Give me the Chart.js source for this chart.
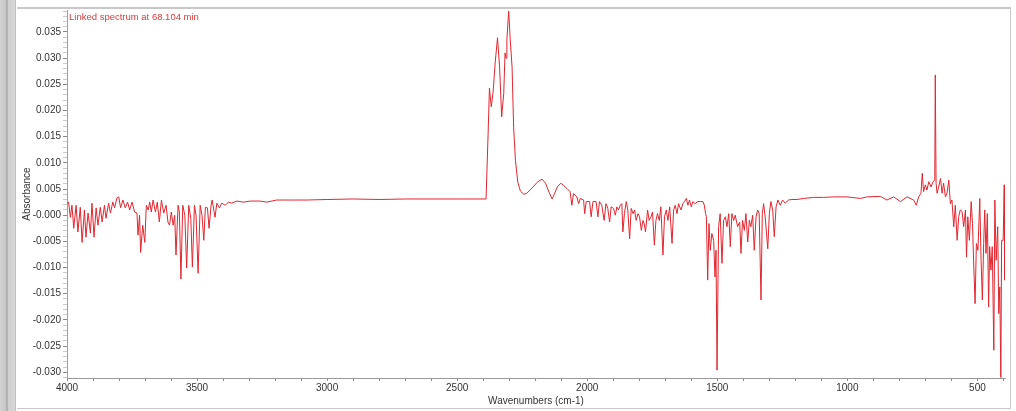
<!DOCTYPE html>
<html>
<head>
<meta charset="utf-8">
<script src="https://cdn.jsdelivr.net/npm/chart.js@4"></script>
<style>
  body { margin: 0; background: #ffffff; width: 1016px; height: 411px; overflow: hidden; position: relative; font-family: "Liberation Sans", Arial, sans-serif; }
  .sidebar { position: absolute; left: 0; top: 0; width: 16px; height: 411px; background: linear-gradient(to right, #d4d4d4 0px, #c6c6c6 6px, #9a9a9a 7px, #cfcfcf 8px, #d8d8d8 15px, #a8a8a8 16px); }
  .panel { position: absolute; left: 17px; top: 7px; width: 994px; height: 402px; border-top: 2px solid #c8c8c8; border-right: 1px solid #c8c8c8; border-bottom: 1px solid #c8c8c8; box-sizing: border-box; }
  #chart { position: absolute; left: 0; top: 0; }
  .caption { position: absolute; left: 69px; top: 11px; font-size: 9.5px; color: #e03a3a; white-space: nowrap; }
</style>
</head>
<body>
<div class="sidebar"></div>
<div class="panel"></div>
<canvas id="chart" width="1016" height="411"></canvas>
<div class="caption">Linked spectrum at 68.104 min</div>
<script>
const wavenumbers = [
    4000, 3994, 3987, 3981, 3974, 3965, 3958, 3949, 3942, 3933, 3927, 3919, 3910, 3904, 3896, 3888,
    3881, 3872, 3865, 3856, 3850, 3840, 3833, 3824, 3817, 3808, 3801, 3794, 3785, 3776, 3767, 3759,
    3750, 3740, 3731, 3727, 3721, 3717, 3709, 3701, 3695, 3688, 3682, 3676, 3669, 3660, 3653, 3645,
    3637, 3628, 3619, 3612, 3606, 3599, 3592, 3586, 3581, 3573, 3568, 3562, 3555, 3547, 3540, 3532,
    3524, 3518, 3510, 3504, 3496, 3488, 3481, 3474, 3468, 3460, 3454, 3446, 3442, 3431, 3424, 3414,
    3405, 3392, 3379, 3367, 3347, 3322, 3296, 3258, 3232, 3194, 3130, 3078, 3000, 2900, 2800, 2700,
    2600, 2500, 2420, 2389,
    2381, 2376, 2369, 2362, 2354, 2345, 2337, 2329, 2321, 2316, 2312, 2309, 2302, 2296, 2289, 2283,
    2276, 2267, 2257, 2244, 2232, 2212, 2192, 2174, 2160, 2147, 2135, 2125, 2115, 2102,
    2091, 2078, 2066, 2059, 2053, 2040, 2033, 2027, 2014, 2010, 2004, 1991, 1985, 1978, 1966, 1959,
    1953, 1944, 1935, 1928, 1921, 1914, 1908, 1899, 1892, 1886, 1880, 1873, 1867, 1863, 1857, 1850,
    1844, 1837, 1831, 1824, 1818, 1812, 1805, 1799, 1792, 1786, 1781, 1776, 1768, 1762, 1755, 1749,
    1742, 1736, 1730, 1723, 1717, 1709, 1703, 1696, 1690, 1683, 1674, 1668, 1662, 1655, 1649, 1640,
    1632, 1626, 1619, 1613, 1607, 1600, 1594, 1585, 1576, 1566, 1555, 1550,
    1545, 1542, 1537, 1532, 1527, 1521, 1514, 1509, 1505, 1501, 1495, 1489, 1482, 1476, 1469, 1463,
    1456, 1450, 1444, 1437, 1431, 1422, 1414, 1409, 1403, 1396, 1390, 1383, 1377, 1371, 1364, 1358,
    1351, 1345, 1339, 1332, 1327, 1322, 1316, 1306, 1300, 1294, 1287, 1281, 1274, 1267, 1258, 1249,
    1239, 1226, 1213, 1194, 1168, 1130, 1091, 1053, 1001, 950, 924, 873, 848, 822, 796, 771,
    745, 735, 726, 717, 712, 707, 700, 694, 687, 678, 671, 664, 662, 659, 655, 649,
    642, 636, 630, 623, 617, 610, 604, 598, 591, 585, 578, 572, 566, 559, 553, 546,
    542, 537, 531, 524, 519, 514, 509, 504, 498, 491, 486, 481, 476, 472, 467, 462,
    457, 453, 448, 443, 437, 433, 428, 422, 418, 414, 410, 407, 401, 397, 395
];

// absorbance at each wavenumber
const absorbance = [
    0.0023, 0.0025, -0.0004, 0.0019, -0.0025, 0.0019, -0.0032, 0.0015, -0.0052, 0.0010, -0.0042, 0.0004, -0.0034, 0.0023, -0.0042, 0.0014,
    -0.0019, 0.0015, -0.0013, 0.0019, -0.0006, 0.0023, 0.0004, 0.0025, 0.0014, 0.0033, 0.0035, 0.0014, 0.0029, 0.0014, 0.0025, 0.0010,
    0.0025, 0.0006, 0.0004, -0.0038, 0.0000, -0.0071, -0.0019, -0.0052, 0.0019, 0.0010, 0.0025, 0.0006, 0.0029, 0.0006, 0.0025, -0.0013,
    0.0029, 0.0004, 0.0019, -0.0013, -0.0019, 0.0006, -0.0019, 0.0000, -0.0076, 0.0019, 0.0006, -0.0122, 0.0019, 0.0000, -0.0101, 0.0019,
    -0.0006, -0.0099, 0.0019, 0.0000, -0.0111, 0.0019, 0.0000, -0.0048, 0.0015, 0.0014, -0.0025, 0.0019, 0.0029, -0.0004, 0.0023, 0.0014,
    0.0023, 0.0019, 0.0025, 0.0023, 0.0027, 0.0025, 0.0027, 0.0027, 0.0025, 0.0029, 0.0029, 0.0029, 0.0030, 0.0031, 0.0030, 0.0031,
    0.0031, 0.0031, 0.0031, 0.0031,
    0.0157, 0.0243, 0.0207, 0.0235, 0.0291, 0.0339, 0.0283, 0.0188, 0.0233, 0.0310, 0.0300, 0.0335, 0.0390, 0.0335, 0.0283, 0.0168,
    0.0105, 0.0063, 0.0046, 0.0040, 0.0042, 0.0052, 0.0063, 0.0069, 0.0061, 0.0044, 0.0031, 0.0042, 0.0054, 0.0061,
    0.0057, 0.0051, 0.0045, 0.0019, 0.0041, 0.0035, 0.0022, 0.0032, 0.0029, 0.0003, 0.0026, 0.0026, -0.0003, 0.0026, 0.0026, -0.0003,
    0.0026, 0.0019, -0.0010, 0.0022, 0.0013, -0.0013, 0.0016, 0.0013, 0.0000, 0.0016, 0.0010, 0.0019, 0.0022, -0.0032, 0.0003, 0.0026,
    0.0010, -0.0045, 0.0013, 0.0003, 0.0010, -0.0010, 0.0003, -0.0003, -0.0029, -0.0010, -0.0016, -0.0032, 0.0010, -0.0010, -0.0003, 0.0006,
    -0.0057, -0.0010, 0.0003, -0.0010, 0.0016, -0.0076, -0.0003, 0.0010, -0.0010, 0.0016, -0.0054, 0.0010, 0.0019, 0.0003, 0.0022, 0.0010,
    0.0022, 0.0026, 0.0032, 0.0019, 0.0029, 0.0016, 0.0026, 0.0022, 0.0026, 0.0026, 0.0026, 0.0019,
    0.0003, -0.0003, -0.0124, -0.0016, -0.0067, -0.0035, -0.0048, -0.0118, -0.0067, -0.0296, -0.0022, 0.0003, -0.0092, -0.0010, -0.0003, -0.0022,
    0.0003, -0.0060, 0.0003, -0.0010, 0.0000, -0.0022, -0.0013, -0.0073, -0.0010, -0.0029, 0.0003, -0.0051, -0.0010, -0.0022, 0.0000, -0.0067,
    -0.0003, 0.0010, 0.0003, -0.0162, 0.0003, 0.0022, -0.0003, -0.0064, 0.0003, 0.0026, 0.0010, -0.0041, 0.0016, 0.0029, 0.0019, 0.0029,
    0.0023, 0.0029, 0.0030, 0.0030, 0.0032, 0.0034, 0.0034, 0.0035, 0.0035, 0.0032, 0.0035, 0.0036, 0.0029, 0.0035, 0.0026, 0.0035,
    0.0029, 0.0019, 0.0035, 0.0042, 0.0080, 0.0045, 0.0058, 0.0048, 0.0064, 0.0054, 0.0064, 0.0067, 0.0268, 0.0061, 0.0042, 0.0054,
    0.0070, 0.0042, 0.0061, 0.0035, 0.0042, 0.0067, 0.0022, 0.0029, -0.0022, 0.0019, -0.0048, -0.0003, 0.0010, 0.0007, -0.0022, 0.0010,
    -0.0080, -0.0003, -0.0048, 0.0026, -0.0016, -0.0099, -0.0169, -0.0054, -0.0067, 0.0032, -0.0086, -0.0162, -0.0054, 0.0010, -0.0073, 0.0003,
    -0.0175, -0.0060, -0.0105, -0.0060, -0.0258, 0.0029, -0.0086, -0.0022, -0.0188, -0.0137, -0.0310, -0.0048, -0.0048, 0.0058, -0.0124
];

// labelled ticks
const xTicks = [4000, 3500, 3000, 2500, 2000, 1500, 1000, 500];
const yTicks = [0.035, 0.030, 0.025, 0.020, 0.015, 0.010, 0.005, 0.000, -0.005, -0.010, -0.015, -0.020, -0.025, -0.030];
const yTickLabels = ['0.035', '0.030', '0.025', '0.020', '0.015', '0.010', '0.005', '-0.000', '-0.005', '-0.010', '-0.015', '-0.020', '-0.025', '-0.030'];

const labelFont = { family: "'Liberation Sans', Arial, sans-serif", size: 10 };

function yLabelFor(value) {
    const idx = yTicks.findIndex(t => Math.abs(t - value) < 1e-7);
    return idx >= 0 ? yTickLabels[idx] : '';
}

const points = wavenumbers.map((wn, i) => ({ x: wn, y: absorbance[i] }));

new Chart(document.getElementById('chart'), {
    type: 'line',
    data: {
        datasets: [{
            label: 'Linked spectrum',
            data: points,
            borderColor: 'rgb(226, 38, 48)',
            borderWidth: 1,
            pointRadius: 0,
            tension: 0,
            fill: false
        }]
    },
    options: {
        responsive: false,
        animation: false,
        layout: { padding: { left: 17, right: 11, top: 10, bottom: 3 } },
        plugins: {
            legend: { display: false },
            tooltip: { enabled: false }
        },
        scales: {
            x: {
                type: 'linear',
                reverse: true,
                min: 394,
                max: 4000,
                afterBuildTicks: (scale) => {
                    const ticks = [];
                    for (let v = 4000; v >= 400; v -= 100) ticks.push({ value: v });
                    scale.ticks = ticks;
                },
                afterFit: (scale) => { scale.height = 30; },
                ticks: {
                    autoSkip: false,
                    maxRotation: 0,
                    padding: 1,
                    color: '#333333',
                    font: labelFont,
                    callback: (value) => xTicks.includes(value) ? String(value) : ''
                },
                grid: {
                    drawOnChartArea: false,
                    drawTicks: true,
                    tickLength: 3,
                    tickColor: '#8a8a8a'
                },
                border: { color: '#9a9a9a' },
                title: {
                    display: true,
                    text: 'Wavenumbers (cm-1)',
                    color: '#333333',
                    font: labelFont,
                    padding: { top: 0, bottom: 1 }
                }
            },
            y: {
                min: -0.0311,
                max: 0.0392,
                afterBuildTicks: (scale) => {
                    const ticks = [];
                    for (let k = -31; k <= 39; k++) ticks.push({ value: k / 1000 });
                    scale.ticks = ticks;
                },
                afterFit: (scale) => { scale.width = 50; },
                ticks: {
                    autoSkip: false,
                    padding: 2,
                    color: '#333333',
                    font: labelFont,
                    callback: (value) => yLabelFor(value)
                },
                grid: {
                    drawOnChartArea: false,
                    drawTicks: true,
                    tickLength: 4,
                    tickColor: (ctx) => (ctx.tick && yLabelFor(ctx.tick.value) !== '') ? '#8a8a8a' : '#cccccc'
                },
                border: { color: '#a0a0a0' },
                title: {
                    display: true,
                    text: 'Absorbance',
                    color: '#333333',
                    font: labelFont,
                    padding: { top: 4, bottom: 0 }
                }
            }
        }
    }
});
</script>
</body>
</html>
